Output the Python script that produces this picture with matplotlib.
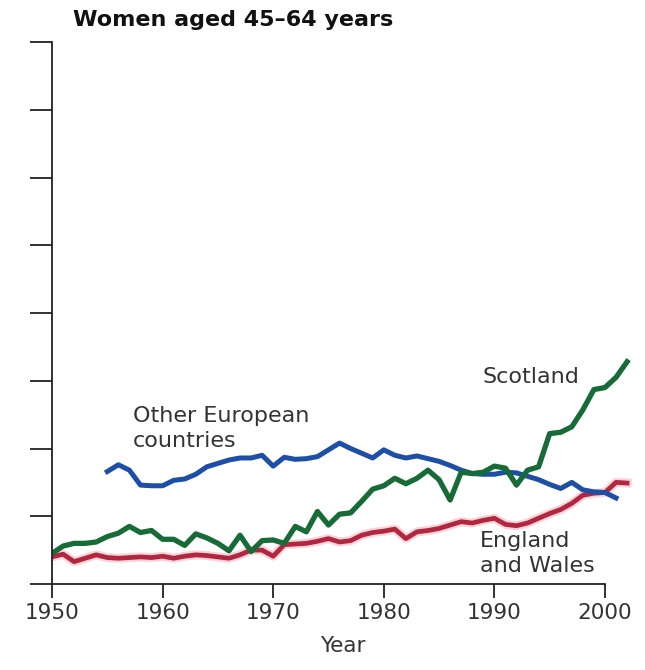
import matplotlib
matplotlib.use("Agg")
import matplotlib.pyplot as plt
import numpy as np

years_scot = list(range(1950, 2003))
scotland = [0.45, 0.56, 0.60, 0.60, 0.62, 0.70, 0.75, 0.85, 0.76, 0.79,
            0.66, 0.66, 0.57, 0.74, 0.68, 0.60, 0.49, 0.72, 0.48, 0.64,
            0.65, 0.60, 0.85, 0.77, 1.07, 0.87, 1.03, 1.05, 1.22, 1.40,
            1.45, 1.56, 1.48, 1.56, 1.68, 1.54, 1.24, 1.65, 1.63, 1.65,
            1.74, 1.71, 1.46, 1.68, 1.73, 2.22, 2.24, 2.32, 2.57, 2.87,
            2.90, 3.05, 3.28]

years_eur = list(range(1955, 2002))
other_europe = [1.66, 1.76, 1.68, 1.46, 1.45, 1.45, 1.53, 1.55, 1.62, 1.73,
                1.78, 1.83, 1.86, 1.86, 1.90, 1.74, 1.87, 1.84, 1.85, 1.88,
                1.98, 2.08, 2.00, 1.93, 1.86, 1.98, 1.90, 1.86, 1.89, 1.85,
                1.81, 1.75, 1.68, 1.63, 1.62, 1.62, 1.65, 1.64, 1.59, 1.54,
                1.47, 1.41, 1.50, 1.39, 1.36, 1.35, 1.27]

years_ew = list(range(1950, 2003))
england_wales = [0.40, 0.44, 0.33, 0.38, 0.43, 0.39, 0.38, 0.39, 0.40, 0.39,
                 0.41, 0.38, 0.41, 0.43, 0.42, 0.40, 0.38, 0.43, 0.50, 0.50,
                 0.41, 0.58, 0.59, 0.60, 0.63, 0.67, 0.62, 0.64, 0.72, 0.76,
                 0.78, 0.81, 0.67, 0.77, 0.79, 0.82, 0.87, 0.92, 0.90, 0.94,
                 0.97, 0.88, 0.86, 0.90, 0.97, 1.04, 1.10, 1.19, 1.31, 1.34,
                 1.35, 1.50, 1.49]

xticks = [1950, 1960, 1970, 1980, 1990, 2000]
yticks = list(range(0, 9))

fig = plt.figure(figsize=(6.45, 6.70), dpi=100)
ax = fig.add_axes([52/645, 86/670, (632.6-52)/645, 542/670])

ax.plot(years_ew, england_wales, color="#f4b8c4", lw=6.5, alpha=0.6, solid_joinstyle="round")
ax.plot(years_ew, england_wales, color="#b3263f", lw=3.4, solid_joinstyle="round")
ax.plot(years_eur, other_europe, color="#1d4fa6", lw=3.6, solid_joinstyle="round")
ax.plot(years_scot, scotland, color="#176b36", lw=3.8, solid_joinstyle="round")

ax.set_xlim(1950, 2002.5)
ax.set_ylim(0, 8)
ax.set_xticks(xticks)
ax.set_yticks(yticks)
ax.set_yticklabels([])
ax.spines["top"].set_visible(False)
ax.spines["right"].set_visible(False)
ax.spines["bottom"].set_bounds(1950, 2000)
for s in ("left", "bottom"):
    ax.spines[s].set_linewidth(1.3)
    ax.spines[s].set_color("#222222")
ax.tick_params(axis="y", length=16, width=1.3, color="#222222", direction="out")
ax.tick_params(axis="x", length=10, width=1.3, color="#222222", direction="out",
               labelsize=15.5, labelcolor="#333333", pad=4)
ax.set_xlabel("Year", fontsize=15.5, color="#333333", labelpad=9)

fig.text(73/645, 1 - 20/670, "Women aged 45\u201364 years", fontsize=16,
         fontweight="bold", color="#111111", ha="left", va="center")

ax.text(1957.3, 2.29, "Other European\ncountries", fontsize=16, color="#333333",
        ha="left", va="center", linespacing=1.3)
ax.text(1988.9, 3.06, "Scotland", fontsize=16, color="#333333", ha="left", va="center")
ax.text(1988.7, 0.45, "England\nand Wales", fontsize=16, color="#333333",
        ha="left", va="center", linespacing=1.3)

fig.savefig("out.png", dpi=100, facecolor="white")
